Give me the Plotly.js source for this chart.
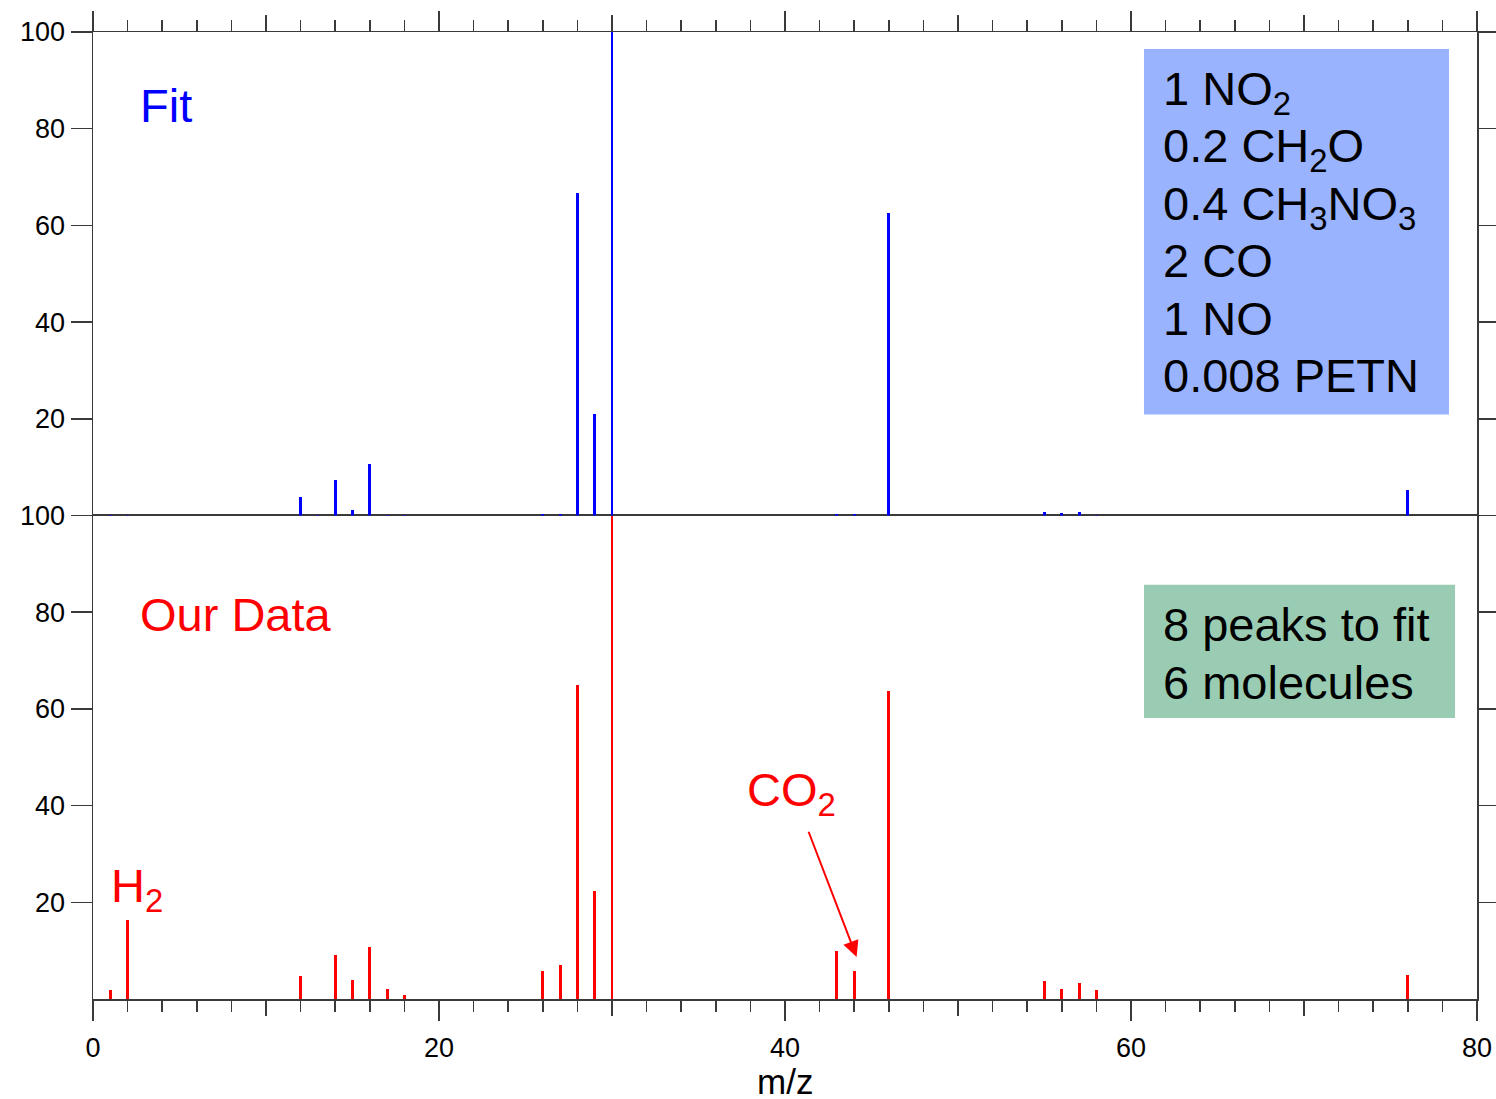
<!DOCTYPE html>
<html>
<head>
<meta charset="utf-8">
<script src="https://cdn.plot.ly/plotly-3.0.1.min.js"></script>
<style>
  html, body { margin: 0; padding: 0; background: #fff; }
  #chart { width: 1496px; height: 1099px; }
</style>
</head>
<body>
<div id="chart"></div>
<script>
// Mass spectrum: fitted stick spectrum (top) and measured spectrum (bottom)
const mzFit  = [1, 2, 12, 13, 14, 15, 16, 17, 18, 26, 27, 28, 29, 30, 43, 44, 46, 55, 56, 57, 58, 76];
const fitPct = [0.2, 0.2, 3.9, 0.2, 7.4, 1.1, 10.7, 0.2, 0.2, 0.3, 0.3, 66.7, 20.9, 100, 0.3, 0.3, 62.5, 0.8, 0.55, 0.8, 0.2, 5.3];

const mzData  = [1, 2, 12, 14, 15, 16, 17, 18, 26, 27, 28, 29, 30, 43, 44, 46, 55, 56, 57, 58, 76];
const dataPct = [1.9, 16.3, 4.7, 9.1, 3.9, 10.7, 2.1, 0.8, 5.7, 7.0, 64.9, 22.3, 100, 9.9, 5.7, 63.6, 3.7, 2.0, 3.4, 1.8, 5.0];

const xMajorTicks = [0, 20, 40, 60, 80];
const xMidTicks   = [10, 30, 50, 70];
const yTicks      = [20, 40, 60, 80, 100];
const xTitle      = 'm/z';

const fitComponents = ['1 NO<sub>2</sub>', '0.2 CH<sub>2</sub>O', '0.4 CH<sub>3</sub>NO<sub>3</sub>', '2 CO', '1 NO', '0.008 PETN'];
const fitSummary    = ['8 peaks to fit', '6 molecules'];

const FONT = '"Liberation Sans", Arial, Helvetica, sans-serif';
const AXC = '#3a3a3a';
const STICK = 0.17;
const BIG = 47;

const traces = [
  { type: 'bar', x: mzFit, y: fitPct, width: STICK, xaxis: 'x2', yaxis: 'y2',
    marker: { color: '#0000ff', line: { width: 0 } }, hoverinfo: 'x+y' },
  { type: 'bar', x: mzData, y: dataPct, width: STICK, xaxis: 'x', yaxis: 'y',
    marker: { color: '#ff0000', line: { width: 0 } }, hoverinfo: 'x+y' },
  // empty traces so the extra tick axes get drawn
  { type: 'scatter', x: [], y: [], xaxis: 'x3', yaxis: 'y', showlegend: false },
  { type: 'scatter', x: [], y: [], xaxis: 'x4', yaxis: 'y2', showlegend: false }
];

const baseX = {
  range: [0, 80], showgrid: false, zeroline: false, fixedrange: true,
  ticks: 'outside', tickcolor: AXC, tickwidth: 1.5
};
const baseY = {
  range: [0, 100], showgrid: false, zeroline: false, fixedrange: true,
  showline: true, linecolor: AXC, linewidth: 1.5, mirror: 'ticks',
  ticks: 'outside', ticklen: 21, tickcolor: AXC, tickwidth: 1.5,
  tickmode: 'array', tickvals: yTicks, ticktext: yTicks.map(String),
  ticklabelstandoff: 0,
  tickfont: { family: FONT, size: 27, color: '#000' }
};

// vertical nudge for lines that carry a subscript (their box grows downward)
const subShift = t => (t.indexOf('<sub>') >= 0 ? -0.8 : 0);

const annotations = [];
fitComponents.forEach((t, i) => {
  annotations.push({ text: t, xref: 'x2', yref: 'y2', x: 61.75, y: 88.4 - i * 11.9 + subShift(t),
    xanchor: 'left', yanchor: 'middle', showarrow: false,
    font: { family: FONT, size: BIG, color: '#000' } });
});
fitSummary.forEach((t, i) => {
  annotations.push({ text: t, xref: 'x', yref: 'y', x: 61.75, y: 77.5 - i * 12.0,
    xanchor: 'left', yanchor: 'middle', showarrow: false,
    font: { family: FONT, size: BIG, color: '#000' } });
});
annotations.push(
  { text: 'Fit', xref: 'x2', yref: 'y2', x: 2.6, y: 84.9, xanchor: 'left', yanchor: 'middle',
    showarrow: false, font: { family: FONT, size: BIG, color: '#0000ff' } },
  { text: 'Our Data', xref: 'x', yref: 'y', x: 2.6, y: 79.5, xanchor: 'left', yanchor: 'middle',
    showarrow: false, font: { family: FONT, size: BIG, color: '#ff0000' } },
  { text: 'H<sub>2</sub>', xref: 'x', yref: 'y', x: 0.95, y: 22.8, xanchor: 'left', yanchor: 'middle',
    showarrow: false, font: { family: FONT, size: BIG, color: '#ff0000' } },
  { text: 'CO<sub>2</sub>', xref: 'x', yref: 'y', x: 37.7, y: 42.6, xanchor: 'left', yanchor: 'middle',
    showarrow: false, font: { family: FONT, size: BIG, color: '#ff0000' } },
  { text: '', xref: 'x', yref: 'y', x: 44.14, y: 8.7, axref: 'x', ayref: 'y', ax: 41.33, ay: 34.9,
    showarrow: true, arrowhead: 2, arrowsize: 1.6, arrowwidth: 2, arrowcolor: '#ff0000', standoff: 0 },
  // x-axis title, set below the tick labels
  { text: xTitle, xref: 'paper', yref: 'paper', x: 0.5, y: -0.0848, xanchor: 'center', yanchor: 'middle',
    height: 32, valign: 'middle', borderpad: 0,
    showarrow: false, font: { family: FONT, size: 35, color: '#000' } }
);

const layout = {
  width: 1496, height: 1099,
  margin: { l: 93, r: 19, t: 32, b: 100 },
  paper_bgcolor: '#fff', plot_bgcolor: '#fff',
  showlegend: false, bargap: 0,
  font: { family: FONT, color: '#000' },
  xaxis: Object.assign({}, baseX, {
    anchor: 'y', showline: true, linecolor: AXC, linewidth: 1.5, mirror: true,
    tickmode: 'array', tickvals: xMajorTicks, ticktext: xMajorTicks.map(String), ticklen: 20,
    ticklabelstandoff: 4,
    tickfont: { family: FONT, size: 27, color: '#000' },
    minor: { dtick: 2, ticklen: 11, ticks: 'outside', tickcolor: AXC, tickwidth: 1.5, showgrid: false }
  }),
  xaxis3: Object.assign({}, baseX, {
    anchor: 'y', overlaying: 'x', showline: false, showticklabels: false,
    tickmode: 'array', tickvals: xMidTicks, ticklen: 16
  }),
  xaxis2: Object.assign({}, baseX, {
    anchor: 'y2', side: 'top', showline: true, linecolor: AXC, linewidth: 1.5,
    showticklabels: false,
    tickmode: 'array', tickvals: xMajorTicks, ticklen: 20,
    minor: { dtick: 2, ticklen: 11, ticks: 'outside', tickcolor: AXC, tickwidth: 1.5, showgrid: false }
  }),
  xaxis4: Object.assign({}, baseX, {
    anchor: 'y2', overlaying: 'x2', side: 'top', showline: false, showticklabels: false,
    tickmode: 'array', tickvals: xMidTicks, ticklen: 16
  }),
  yaxis: Object.assign({}, baseY, { domain: [0, 0.5], anchor: 'x' }),
  yaxis2: Object.assign({}, baseY, { domain: [0.5, 1], anchor: 'x2' }),
  shapes: [
    { type: 'rect', xref: 'x2', yref: 'y2', x0: 60.75, x1: 78.38, y0: 20.9, y1: 96.5,
      fillcolor: '#99b3ff', line: { width: 0 }, layer: 'below' },
    { type: 'rect', xref: 'x', yref: 'y', x0: 60.75, x1: 78.73, y0: 58.1, y1: 85.7,
      fillcolor: '#99ccb3', line: { width: 0 }, layer: 'below' }
  ],
  annotations: annotations
};

Plotly.newPlot('chart', traces, layout, { displayModeBar: false, staticPlot: true });
</script>
</body>
</html>
